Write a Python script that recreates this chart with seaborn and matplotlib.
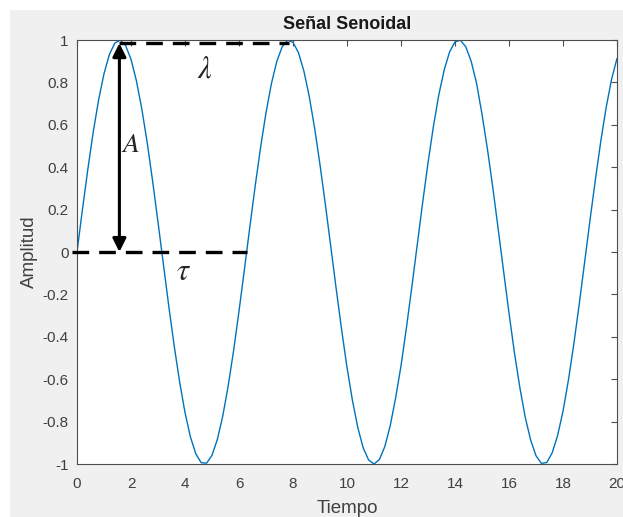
import numpy as np
import pandas as pd
import matplotlib
matplotlib.use("Agg")
import matplotlib.pyplot as plt
import seaborn as sns
from matplotlib.patches import Rectangle

# ---- data ----
tiempo = [round(0.2 * k, 1) for k in range(101)]
amplitud = [
    0.000, 0.199, 0.389, 0.565, 0.717, 0.841, 0.932, 0.985, 1.000, 0.974,
    0.909, 0.808, 0.675, 0.516, 0.335, 0.141, -0.058, -0.256, -0.443, -0.612,
    -0.757, -0.872, -0.952, -0.994, -0.996, -0.959, -0.883, -0.773, -0.631, -0.465,
    -0.279, -0.083, 0.117, 0.312, 0.494, 0.657, 0.794, 0.899, 0.968, 0.999,
    0.989, 0.941, 0.855, 0.735, 0.585, 0.412, 0.223, 0.025, -0.174, -0.366,
    -0.544, -0.699, -0.828, -0.924, -0.981, -1.000, -0.979, -0.918, -0.820, -0.689,
    -0.537, -0.358, -0.166, 0.033, 0.231, 0.420, 0.592, 0.741, 0.859, 0.944,
    0.991, 0.999, 0.968, 0.899, 0.795, 0.650, 0.487, 0.304, 0.108, -0.091,
    -0.288, -0.474, -0.638, -0.779, -0.886, -0.961, -0.997, -0.993, -0.947, -0.866,
    -0.751, -0.605, -0.435, -0.247, -0.049, 0.150, 0.342, 0.523, 0.683, 0.815,
    0.913,
]
x_ticks = [0, 2, 4, 6, 8, 10, 12, 14, 16, 18, 20]
y_ticks = [-1, -0.8, -0.6, -0.4, -0.2, 0, 0.2, 0.4, 0.6, 0.8, 1]
y_ticklabels = ["-1", "-0.8", "-0.6", "-0.4", "-0.2", "0", "0.2", "0.4", "0.6", "0.8", "1"]

# annotation geometry (data units)
lambda_line = {"x0": 1.57, "x1": 7.85, "y": 0.985}
tau_line = {"x0": -0.2, "x1": 6.28, "y": 0.0}
arrow_x = 1.57
arrow_y = (0.0, 0.985)

df = pd.DataFrame({"Tiempo": tiempo, "Amplitud": amplitud})

sns.set_style("white")
plt.rcParams["font.family"] = ["Liberation Sans", "DejaVu Sans"]

fig = plt.figure(figsize=(6.23, 5.17), dpi=100)
fig.patch.set_facecolor("#f0f0f0")
# white strip of the screenshot border
fig.patches.append(Rectangle((0, 0.981), 1, 0.019, transform=fig.transFigure,
                             facecolor="white", edgecolor="none", zorder=-5))
fig.patches.append(Rectangle((0, 0), 0.016, 1, transform=fig.transFigure,
                             facecolor="white", edgecolor="none", zorder=-5))

ax = fig.add_axes([77 / 623, 53 / 517, 540 / 623, 424 / 517])
ax.set_facecolor("white")

sns.lineplot(data=df, x="Tiempo", y="Amplitud", ax=ax, color="#0072BD",
             linewidth=1.0)

ax.set_xlim(0, 20)
ax.set_ylim(-1, 1)
ax.set_xticks(x_ticks)
ax.set_yticks(y_ticks)
ax.set_yticklabels(y_ticklabels)

ax.tick_params(direction="in", length=4, width=0.8, colors="#4d4d4d",
               labelsize=11, top=True, right=True, labelcolor="#404040")
ax.tick_params(axis="x", pad=9)
ax.tick_params(axis="y", pad=6)
for s in ax.spines.values():
    s.set_color("#4d4d4d")
    s.set_linewidth(0.8)
    s.set_visible(True)

ax.set_xlabel("Tiempo", fontsize=13.5, color="#404040", labelpad=7)
ax.set_ylabel("Amplitud", fontsize=13.5, color="#404040", labelpad=3)
ax.set_title("Señal Senoidal", fontsize=13, fontweight="bold", color="#1a1a1a", pad=8)

# dashed reference lines
ax.plot([lambda_line["x0"], lambda_line["x1"]], [lambda_line["y"]] * 2,
        color="black", linewidth=2.4, dashes=(5, 3), clip_on=False, zorder=5)
ax.plot([tau_line["x0"], tau_line["x1"]], [tau_line["y"]] * 2,
        color="black", linewidth=2.4, dashes=(5, 3), clip_on=False, zorder=5)

# double-headed amplitude arrow
ax.annotate("", xy=(arrow_x, arrow_y[1]), xytext=(arrow_x, arrow_y[0]),
            arrowprops=dict(arrowstyle="<|-|>", color="black", lw=2.2,
                            mutation_scale=20, shrinkA=0, shrinkB=0),
            zorder=6)

ax.text(4.74, 0.86, r"$\lambda$", fontsize=22, math_fontfamily="stix",
        ha="center", va="center")
ax.text(1.98, 0.505, r"$A$", fontsize=20, math_fontfamily="stix",
        ha="center", va="center")
ax.text(3.93, -0.095, r"$\tau$", fontsize=22, math_fontfamily="stix",
        ha="center", va="center")

fig.savefig("out.png", dpi=100, facecolor=fig.get_facecolor())
